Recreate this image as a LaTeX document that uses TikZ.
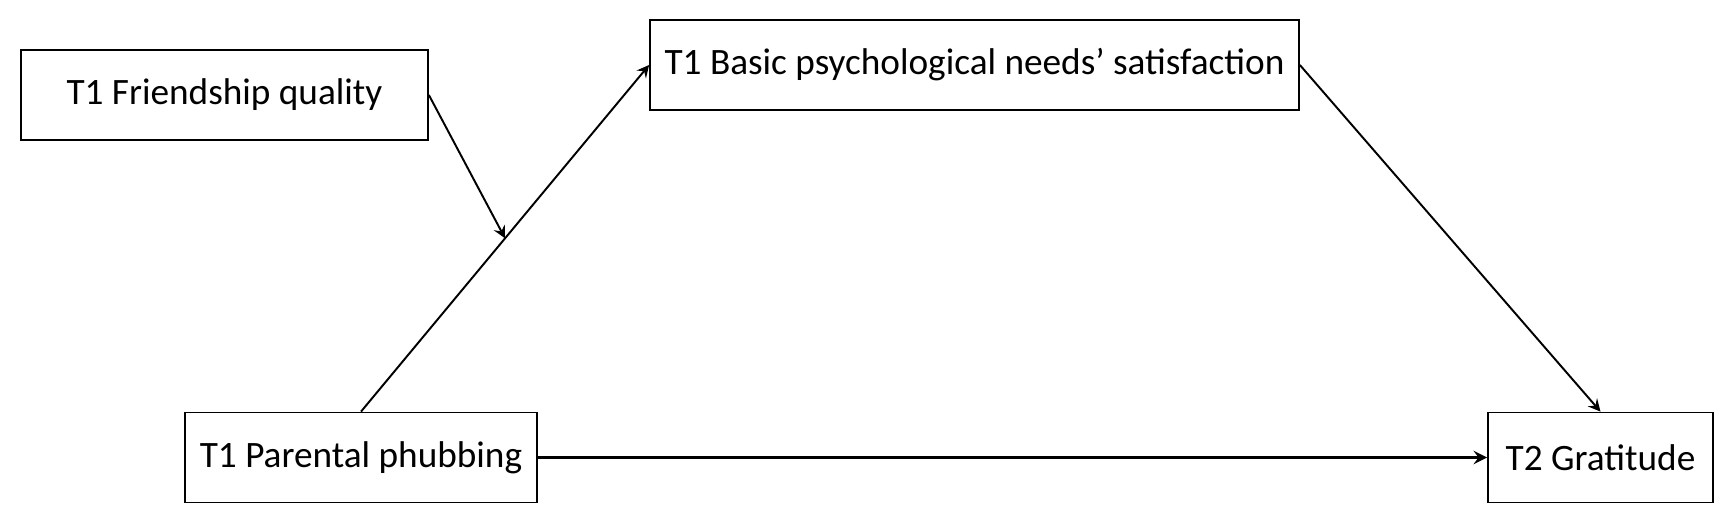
\documentclass[tikz,border=0pt]{standalone}
\usepackage{fontspec}
\setmainfont{Carlito}
\usepackage{tikz}
\usetikzlibrary{arrows,calc}

\tikzset{
  var/.style={draw, line width=0.5pt, inner sep=0pt, align=center,
    font=\fontsize{10.6}{13}\selectfont, minimum height=0.9cm},
}

\begin{document}
\begin{tikzpicture}
  \useasboundingbox (0,0) rectangle (17.31,5.28);
  \node[var, minimum width=4.07cm] (fq)  at (2.245,4.33)  {T1 Friendship quality};
  \node[var, minimum width=6.49cm] (bpn) at (9.745,4.63)  {T1 Basic psychological needs' satisfaction};
  \node[var, minimum width=3.52cm] (pp)  at (3.61,0.705)  {T1 Parental phubbing};
  \node[var, minimum width=2.25cm] (gr)  at (16.005,0.705) {T2 Gratitude};
  \coordinate (mod) at ($(pp.north)!0.5!(bpn.west)$);
  \path[-stealth, line width=0.55pt]
  (pp.north) edge (bpn.west)
  (fq.east) edge (mod)
  (bpn.east) edge (gr.north)
  (pp) edge[line width=0.7pt] (gr);
\end{tikzpicture}
\end{document}
